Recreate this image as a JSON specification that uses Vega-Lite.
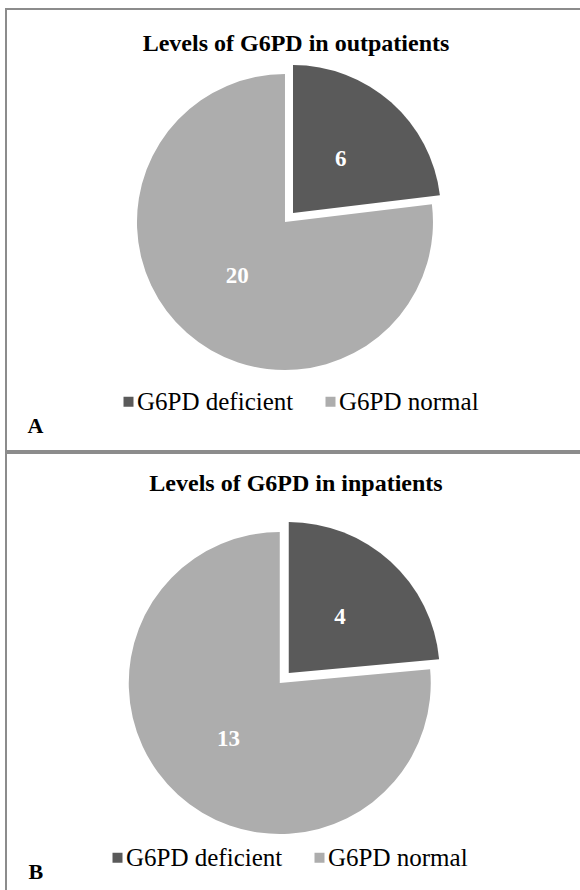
{
  "$schema": "https://vega.github.io/schema/vega-lite/v6.json",
  "padding": {"left": 5, "top": 8, "right": 0, "bottom": 0},
  "spacing": 0,
  "background": "white",
  "config": {
    "view": {"stroke": "#8c8c8c", "strokeWidth": 2},
    "font": "Liberation Serif",
    "title": {"font": "Liberation Serif", "fontSize": 24, "fontWeight": "bold", "color": "black", "baseline": "middle"},
    "legend": {"padding": 0, "labelFont": "Liberation Serif", "labelFontSize": 25, "labelColor": "black", "labelFontWeight": "normal"}
  },
  "datasets": {
    "outpatients": [
      {"panel": "A", "status": "G6PD deficient", "count": 6},
      {"panel": "A", "status": "G6PD normal", "count": 20}
    ],
    "inpatients": [
      {"panel": "B", "status": "G6PD deficient", "count": 4},
      {"panel": "B", "status": "G6PD normal", "count": 13}
    ]
  },
  "resolve": {"scale": {"color": "independent"}, "legend": {"color": "independent"}},
  "vconcat": [
    {
      "width": 580,
      "height": 442,
      "data": {"name": "outpatients"},
      "title": {"text": "Levels of G6PD in outpatients", "offset": -47},
      "encoding": {
        "x": {"field": "panel", "type": "nominal", "scale": {"type": "point", "align": 0.481},
          "axis": {"title": "A", "labels": false, "ticks": false, "domain": false, "grid": false, "titleX": 21, "titleY": -26, "titleAlign": "left", "titleBaseline": "middle", "titleFontSize": 22, "titleFontWeight": "bold", "titleFont": "Liberation Serif", "titleColor": "black"}},
        "y": {"field": "panel", "type": "nominal", "scale": {"type": "point", "align": 0.482}, "axis": null},
        "theta": {"field": "count", "type": "quantitative", "stack": true}
      },
      "layer": [
        {
          "mark": {"type": "arc", "outerRadius": 148},
          "encoding": {
            "color": {"field": "status", "type": "nominal", "scale": {"domain": ["G6PD deficient", "G6PD normal"], "range": ["#5a5a5a", "#adadad"]},
              "legend": {"orient": "none", "legendX": 110, "legendY": 380, "direction": "horizontal", "title": null, "symbolType": "square", "symbolSize": 100, "symbolStrokeWidth": 0, "symbolOpacity": 1, "labelFont": "Liberation Serif", "labelFontSize": 25, "labelColor": "black", "columnPadding": 24, "labelOffset": -4}},
            "fillOpacity": {"condition": {"test": "datum.status === 'G6PD deficient'", "value": 0}, "value": 1}
          }
        },
        {
          "mark": {"type": "arc", "outerRadius": 148, "xOffset": 8, "yOffset": -9},
          "encoding": {
            "color": {"field": "status", "type": "nominal"},
            "fillOpacity": {"condition": {"test": "datum.status === 'G6PD deficient'", "value": 1}, "value": 0}
          }
        },
        {
          "mark": {"type": "text", "radius": 72, "font": "Liberation Serif", "fontSize": 23, "fontWeight": "bold", "fill": "white"},
          "encoding": {
            "text": {"field": "count", "type": "quantitative"},
            "detail": {"field": "status", "type": "nominal"},
            "opacity": {"condition": {"test": "datum.status === 'G6PD deficient'", "value": 0}, "value": 1}
          }
        },
        {
          "mark": {"type": "text", "radius": 72, "font": "Liberation Serif", "fontSize": 23, "fontWeight": "bold", "fill": "white", "xOffset": 8, "yOffset": -9},
          "encoding": {
            "text": {"field": "count", "type": "quantitative"},
            "detail": {"field": "status", "type": "nominal"},
            "opacity": {"condition": {"test": "datum.status === 'G6PD deficient'", "value": 1}, "value": 0}
          }
        }
      ]
    },
    {
      "width": 580,
      "height": 445,
      "data": {"name": "inpatients"},
      "title": {"text": "Levels of G6PD in inpatients", "offset": -43},
      "encoding": {
        "x": {"field": "panel", "type": "nominal", "scale": {"type": "point", "align": 0.472},
          "axis": {"title": "B", "labels": false, "ticks": false, "domain": false, "grid": false, "titleX": 22, "titleY": -27, "titleAlign": "left", "titleBaseline": "middle", "titleFontSize": 22, "titleFontWeight": "bold", "titleFont": "Liberation Serif", "titleColor": "black"}},
        "y": {"field": "panel", "type": "nominal", "scale": {"type": "point", "align": 0.517}, "axis": null},
        "theta": {"field": "count", "type": "quantitative", "stack": true}
      },
      "layer": [
        {
          "mark": {"type": "arc", "outerRadius": 151},
          "encoding": {
            "color": {"field": "status", "type": "nominal", "scale": {"domain": ["G6PD deficient", "G6PD normal"], "range": ["#5a5a5a", "#adadad"]},
              "legend": {"orient": "none", "legendX": 99, "legendY": 392, "direction": "horizontal", "title": null, "symbolType": "square", "symbolSize": 100, "symbolStrokeWidth": 0, "symbolOpacity": 1, "labelFont": "Liberation Serif", "labelFontSize": 25, "labelColor": "black", "columnPadding": 24, "labelOffset": -4}},
            "fillOpacity": {"condition": {"test": "datum.status === 'G6PD deficient'", "value": 0}, "value": 1}
          }
        },
        {
          "mark": {"type": "arc", "outerRadius": 151, "xOffset": 9, "yOffset": -10},
          "encoding": {
            "color": {"field": "status", "type": "nominal"},
            "fillOpacity": {"condition": {"test": "datum.status === 'G6PD deficient'", "value": 1}, "value": 0}
          }
        },
        {
          "mark": {"type": "text", "radius": 76, "font": "Liberation Serif", "fontSize": 23, "fontWeight": "bold", "fill": "white"},
          "encoding": {
            "text": {"field": "count", "type": "quantitative"},
            "detail": {"field": "status", "type": "nominal"},
            "opacity": {"condition": {"test": "datum.status === 'G6PD deficient'", "value": 0}, "value": 1}
          }
        },
        {
          "mark": {"type": "text", "radius": 76, "font": "Liberation Serif", "fontSize": 23, "fontWeight": "bold", "fill": "white", "xOffset": 9, "yOffset": -10},
          "encoding": {
            "text": {"field": "count", "type": "quantitative"},
            "detail": {"field": "status", "type": "nominal"},
            "opacity": {"condition": {"test": "datum.status === 'G6PD deficient'", "value": 1}, "value": 0}
          }
        }
      ]
    }
  ]
}
